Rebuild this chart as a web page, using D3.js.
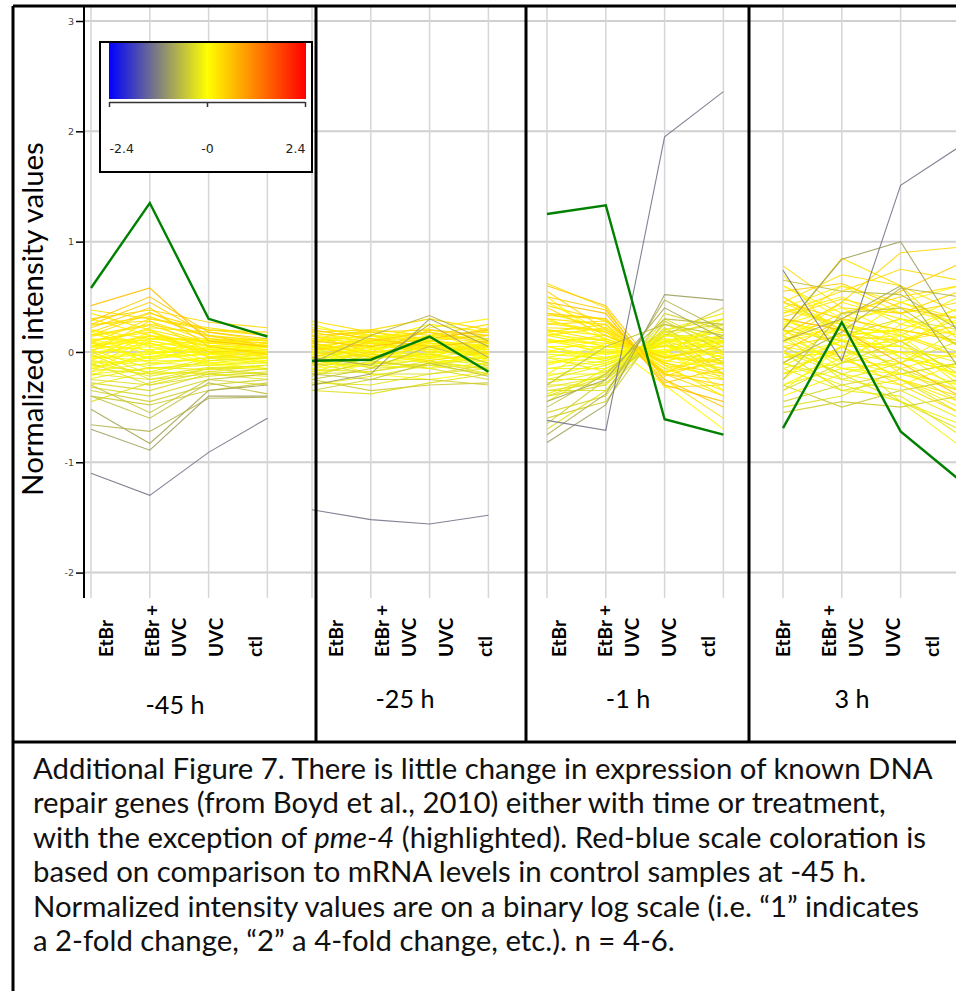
<!DOCTYPE html>
<html>
<head>
<meta charset="utf-8">
<script src="https://cdn.jsdelivr.net/npm/d3@7"></script>
<style>
  body { margin: 0; background: #fff; }
  svg { display: block; }
</style>
</head>
<body>
<svg width="956" height="991"></svg>
<script>
// ---- data ----
var conditions = ["EtBr", "EtBr + UVC", "UVC", "ctl"];
var times = ["-45 h", "-25 h", "-1 h", "3 h"];
var yTicks = [-2, -1, 0, 1, 2, 3];
var legendTicks = [-2.4, 0, 2.4];
var highlightGene = "pme-4"; // row 0 of every table
var highlightIndex = 0;

// one row per gene: values for EtBr, EtBr + UVC, UVC, ctl
var expr45h = [
  [0.58, 1.35, 0.30, 0.14],
  [-1.10, -1.30, -0.91, -0.60],
  [-0.70, -0.89, -0.40, -0.40],
  [-0.66, -0.72, -0.42, -0.41],
  [-0.52, -0.83, -0.35, -0.30],
  [-0.40, -0.60, -0.28, -0.38],
  [-0.30, -0.55, -0.25, -0.20],
  [0.42, 0.58, 0.10, 0.05],
  [0.28, 0.50, 0.18, 0.12],
  [0.30, 0.38, 0.27, 0.22],
  [0.22, 0.40, 0.05, -0.02],
  [0.18, 0.36, 0.12, 0.08],
  [0.25, 0.28, 0.00, 0.02],
  [0.15, 0.25, 0.15, 0.10],
  [0.10, 0.20, -0.05, 0.00],
  [0.05, 0.15, 0.08, 0.06],
  [0.12, 0.10, 0.02, -0.05],
  [0.00, 0.05, -0.02, 0.02],
  [0.05, -0.05, 0.10, 0.05],
  [-0.05, 0.00, -0.10, -0.08],
  [-0.10, -0.08, 0.05, 0.00],
  [-0.08, -0.12, -0.05, -0.10],
  [-0.15, -0.20, -0.08, -0.05],
  [-0.20, -0.25, -0.15, -0.12],
  [-0.25, -0.30, -0.18, -0.20],
  [-0.28, -0.35, -0.20, -0.15],
  [-0.32, -0.40, -0.25, -0.30],
  [-0.35, -0.45, -0.30, -0.25],
  [0.20, 0.05, -0.10, -0.15],
  [0.08, 0.30, 0.20, 0.15],
  [-0.12, 0.12, 0.10, 0.05],
  [0.02, -0.15, -0.12, -0.08],
  [0.18, 0.00, 0.03, -0.02],
  [-0.18, 0.10, 0.00, 0.08],
  [0.35, 0.20, 0.08, 0.12],
  [-0.02, -0.25, -0.20, -0.25],
  [0.10, -0.10, -0.05, 0.00],
  [-0.22, 0.02, -0.12, -0.15],
  [0.15, 0.35, 0.20, 0.18],
  [-0.40, -0.48, -0.35, -0.28],
  [0.30, 0.15, 0.00, -0.10],
  [-0.05, 0.18, 0.05, 0.00],
  [0.00, -0.20, -0.18, -0.12],
  [0.08, 0.08, -0.08, -0.05],
  [-0.10, -0.30, -0.22, -0.18],
  [0.25, 0.45, 0.15, 0.05],
  [-0.15, -0.05, 0.02, 0.05],
  [0.05, 0.22, 0.18, 0.10],
  [-0.30, -0.18, -0.20, -0.22],
  [0.38, 0.30, 0.22, 0.15],
  [-0.45, -0.28, -0.15, -0.20],
  [0.12, -0.02, 0.12, 0.10],
  [-0.08, 0.15, -0.02, -0.02],
  [0.20, 0.12, 0.12, 0.05],
  [-0.20, -0.15, -0.10, -0.05],
  [0.00, 0.28, 0.10, 0.12],
  [0.02, 0.12, 0.06, 0.04],
  [-0.06, -0.02, 0.04, 0.00],
  [0.10, 0.18, 0.00, -0.04],
  [-0.12, -0.18, -0.06, -0.02],
  [0.16, 0.06, 0.10, 0.08],
  [-0.02, 0.08, -0.04, -0.06],
  [0.06, 0.02, 0.06, 0.02],
  [-0.18, -0.10, -0.12, -0.10],
  [0.24, 0.32, 0.14, 0.10],
  [-0.08, -0.22, -0.14, -0.16],
  [0.04, 0.14, 0.10, 0.06],
  [-0.04, -0.08, -0.08, -0.02],
  [0.14, 0.24, 0.08, 0.04],
  [-0.14, -0.04, -0.02, -0.08],
  [0.08, -0.06, -0.02, 0.04],
  [-0.24, -0.14, -0.16, -0.12]
];

var expr25h = [
  [-0.08, -0.07, 0.14, -0.18],
  [-1.43, -1.52, -1.56, -1.48],
  [-0.30, -0.20, 0.30, 0.05],
  [-0.10, 0.15, 0.33, 0.10],
  [-0.05, -0.12, 0.25, -0.05],
  [-0.20, -0.25, -0.10, -0.22],
  [-0.25, -0.15, 0.05, -0.10],
  [0.10, 0.05, 0.12, 0.20],
  [0.20, 0.12, 0.05, 0.10],
  [0.05, -0.05, 0.10, 0.15],
  [-0.05, 0.10, 0.18, 0.08],
  [0.15, 0.18, 0.20, 0.12],
  [0.08, -0.02, -0.08, 0.00],
  [-0.12, 0.00, 0.05, -0.02],
  [0.02, 0.08, 0.00, 0.05],
  [0.00, -0.08, 0.08, 0.02],
  [0.12, 0.03, -0.05, 0.10],
  [-0.08, 0.05, 0.02, -0.05],
  [0.05, 0.00, -0.02, 0.08],
  [-0.15, -0.10, -0.05, -0.08],
  [0.10, 0.15, 0.10, 0.02],
  [-0.02, -0.12, -0.15, -0.10],
  [-0.18, -0.05, 0.05, 0.00],
  [0.05, -0.15, -0.12, -0.15],
  [-0.20, -0.18, -0.08, -0.20],
  [-0.10, -0.20, -0.20, -0.12],
  [-0.22, -0.08, -0.15, -0.25],
  [-0.35, -0.25, -0.25, -0.30],
  [0.15, 0.05, -0.10, -0.05],
  [0.18, 0.20, 0.15, 0.25],
  [-0.05, 0.05, 0.22, 0.30],
  [0.08, -0.08, -0.15, 0.05],
  [-0.10, 0.02, 0.08, -0.08],
  [0.02, 0.10, 0.25, 0.18],
  [0.22, 0.15, 0.00, 0.00],
  [-0.28, -0.30, -0.20, -0.15],
  [0.25, 0.10, 0.05, -0.05],
  [-0.05, -0.20, -0.25, -0.18],
  [0.12, 0.20, 0.30, 0.20],
  [-0.25, -0.35, -0.30, -0.28],
  [0.00, 0.12, 0.18, 0.00],
  [-0.15, -0.02, 0.10, 0.05],
  [0.00, -0.05, -0.02, -0.12],
  [0.06, -0.04, 0.04, -0.02],
  [-0.12, -0.10, -0.12, -0.05],
  [0.15, 0.00, 0.20, 0.15],
  [-0.10, 0.08, 0.12, 0.15],
  [0.10, 0.18, 0.12, -0.02],
  [-0.30, -0.22, -0.12, -0.20],
  [0.28, 0.18, 0.10, 0.22],
  [-0.35, -0.38, -0.28, -0.20],
  [-0.02, 0.02, 0.15, 0.12],
  [0.04, 0.12, -0.04, 0.08],
  [0.18, 0.08, 0.02, 0.04],
  [-0.18, -0.12, 0.00, -0.02],
  [0.02, 0.15, 0.08, 0.05],
  [0.06, 0.10, 0.06, 0.02],
  [-0.04, 0.02, 0.10, 0.06],
  [0.12, 0.08, 0.04, 0.12],
  [-0.08, -0.14, -0.06, -0.12],
  [0.10, 0.14, 0.18, 0.10],
  [-0.06, -0.02, -0.10, -0.04],
  [0.00, 0.04, 0.06, 0.00],
  [-0.12, -0.06, -0.02, -0.10],
  [0.14, 0.10, 0.14, 0.18],
  [-0.16, -0.18, -0.10, -0.14],
  [0.02, 0.06, 0.14, 0.08],
  [0.04, -0.04, -0.04, -0.06],
  [0.08, 0.16, 0.02, 0.06],
  [-0.10, 0.00, 0.04, -0.04],
  [0.08, 0.00, -0.06, 0.04],
  [-0.20, -0.10, -0.08, -0.16]
];

var expr1h = [
  [1.25, 1.33, -0.61, -0.75],
  [-0.62, -0.71, 1.95, 2.36],
  [-0.82, -0.48, 0.52, 0.47],
  [-0.75, -0.38, 0.47, 0.20],
  [-0.45, -0.25, 0.40, 0.12],
  [-0.50, -0.20, 0.30, 0.25],
  [-0.30, 0.05, 0.25, 0.15],
  [0.45, 0.35, -0.30, -0.45],
  [0.60, 0.42, -0.25, -0.50],
  [0.55, 0.20, -0.10, -0.20],
  [0.35, 0.30, -0.20, -0.30],
  [0.40, 0.15, -0.05, 0.05],
  [0.30, 0.25, -0.25, -0.60],
  [0.20, 0.10, -0.05, -0.10],
  [0.28, 0.18, -0.15, -0.35],
  [0.15, 0.05, 0.05, 0.15],
  [0.10, 0.00, 0.00, 0.10],
  [0.05, -0.05, 0.08, 0.20],
  [-0.05, -0.10, 0.10, 0.05],
  [-0.10, -0.05, 0.05, -0.05],
  [-0.15, -0.15, 0.15, 0.10],
  [-0.20, -0.20, 0.18, 0.00],
  [-0.25, -0.25, 0.20, 0.30],
  [-0.30, -0.30, 0.25, 0.10],
  [-0.35, -0.35, 0.30, 0.05],
  [-0.40, -0.30, 0.22, -0.10],
  [-0.55, -0.40, 0.35, 0.20],
  [-0.60, -0.45, 0.28, 0.00],
  [0.50, 0.10, -0.30, -0.70],
  [0.25, 0.28, -0.20, -0.25],
  [0.00, 0.12, -0.08, -0.15],
  [-0.05, -0.18, 0.20, 0.35],
  [0.18, 0.05, -0.02, -0.20],
  [-0.20, 0.08, 0.00, 0.25],
  [0.15, 0.22, -0.12, -0.40],
  [-0.40, -0.22, 0.10, -0.20],
  [0.05, -0.08, 0.12, 0.00],
  [-0.10, 0.00, 0.02, -0.35],
  [0.33, 0.30, -0.22, -0.05],
  [-0.65, -0.25, 0.15, 0.40],
  [0.45, 0.18, -0.20, 0.10],
  [0.08, 0.15, -0.10, 0.15],
  [-0.25, -0.12, 0.08, -0.25],
  [0.12, 0.02, 0.00, -0.10],
  [-0.35, -0.28, 0.18, 0.25],
  [0.50, 0.38, -0.28, -0.15],
  [-0.05, 0.05, -0.02, 0.30],
  [0.22, 0.20, -0.18, -0.02],
  [-0.45, -0.15, 0.10, -0.05],
  [0.62, 0.40, -0.32, -0.30],
  [-0.70, -0.35, 0.20, -0.20],
  [0.00, -0.02, 0.05, 0.05],
  [0.10, 0.08, -0.05, -0.08],
  [0.30, 0.12, -0.08, 0.00],
  [-0.15, -0.08, 0.10, 0.18],
  [0.18, 0.25, -0.18, -0.10],
  [0.20, 0.15, -0.10, -0.25],
  [-0.08, -0.12, 0.12, 0.08],
  [0.35, 0.22, -0.15, -0.05],
  [-0.28, -0.18, 0.15, 0.08],
  [0.10, 0.12, -0.06, 0.10],
  [0.05, 0.05, -0.02, -0.15],
  [0.12, -0.02, 0.02, 0.10],
  [-0.22, -0.10, 0.06, -0.12],
  [0.42, 0.28, -0.20, -0.40],
  [-0.32, -0.22, 0.16, 0.12],
  [0.16, 0.10, -0.04, 0.02],
  [-0.02, -0.06, 0.06, -0.02],
  [0.26, 0.18, -0.12, -0.22],
  [-0.12, 0.02, 0.00, 0.15],
  [0.02, -0.08, 0.10, 0.22],
  [-0.38, -0.20, 0.14, 0.30]
];

var expr3h = [
  [-0.69, 0.27, -0.72, -1.16],
  [0.74, -0.08, 1.51, 1.86],
  [0.20, 0.84, 1.00, 0.16],
  [-0.10, 0.18, 0.58, 0.50],
  [0.10, 0.30, 0.60, -0.15],
  [0.65, 0.55, 0.52, 0.20],
  [-0.25, 0.35, 0.40, 0.05],
  [0.30, 0.20, -0.10, -0.40],
  [0.55, 0.62, 0.40, 0.30],
  [0.15, 0.45, 0.90, 0.95],
  [0.45, 0.30, 0.20, 0.10],
  [0.78, 0.40, 0.35, 0.45],
  [0.20, -0.05, -0.30, -0.55],
  [0.05, 0.15, 0.10, 0.25],
  [-0.20, 0.05, -0.25, -0.45],
  [0.35, 0.50, 0.25, 0.15],
  [0.30, 0.05, 0.05, 0.35],
  [0.10, 0.20, -0.05, -0.20],
  [-0.05, 0.10, 0.15, 0.00],
  [0.00, -0.15, -0.20, -0.30],
  [-0.30, -0.05, 0.15, 0.40],
  [0.40, 0.25, 0.05, -0.10],
  [-0.10, -0.25, -0.35, -0.60],
  [0.20, 0.10, -0.15, -0.45],
  [0.05, -0.20, -0.45, -0.70],
  [-0.35, -0.10, 0.10, -0.20],
  [-0.45, -0.30, -0.20, -0.10],
  [-0.55, -0.45, -0.50, -0.40],
  [0.60, 0.30, -0.05, -0.20],
  [0.10, 0.35, 0.50, 0.60],
  [0.40, 0.60, 0.35, 0.05],
  [-0.15, 0.00, -0.10, 0.20],
  [0.25, 0.40, 0.15, -0.25],
  [-0.40, -0.20, -0.30, -0.10],
  [0.50, 0.20, -0.20, -0.35],
  [0.00, -0.35, -0.25, -0.55],
  [0.15, -0.10, 0.25, 0.50],
  [-0.20, 0.05, 0.30, 0.15],
  [0.35, 0.55, 0.75, 0.65],
  [-0.30, -0.50, -0.35, -0.25],
  [0.70, 0.10, 0.00, -0.05],
  [-0.10, 0.25, 0.45, 0.30],
  [0.15, -0.25, -0.10, 0.10],
  [-0.05, 0.00, 0.00, -0.15],
  [0.50, 0.15, 0.30, 0.20],
  [0.00, 0.30, 0.55, 0.80],
  [-0.25, 0.15, 0.20, 0.10],
  [0.25, 0.05, -0.25, -0.40],
  [-0.15, -0.35, -0.40, -0.75],
  [0.45, 0.70, 0.60, 0.35],
  [-0.50, -0.40, -0.15, -0.35],
  [0.30, 0.10, 0.45, 0.60],
  [0.08, 0.45, 0.30, 0.05],
  [0.60, 0.35, 0.10, -0.30],
  [-0.05, 0.00, -0.45, -0.85],
  [0.20, 0.85, 0.60, 0.10],
  [0.12, 0.22, 0.18, -0.05],
  [-0.12, 0.10, 0.05, -0.25],
  [0.45, 0.20, 0.10, 0.20],
  [-0.20, -0.10, 0.00, -0.35],
  [0.28, 0.15, 0.20, 0.40],
  [0.05, -0.05, -0.15, 0.00],
  [0.18, 0.28, 0.40, 0.25],
  [-0.30, -0.15, -0.25, -0.50],
  [0.32, 0.48, 0.35, 0.55],
  [0.00, -0.20, -0.05, -0.15],
  [0.22, 0.60, 0.45, 0.25],
  [0.10, -0.08, -0.20, -0.10],
  [0.38, 0.25, 0.15, -0.05],
  [-0.35, 0.05, 0.10, 0.30],
  [0.20, -0.15, -0.10, -0.30],
  [-0.10, -0.30, -0.45, -0.65]
];

var captionLines = [
  ["Additional Figure 7. There is little change in expression of known DNA"],
  ["repair genes (from Boyd et al., 2010) either with time or treatment,"],
  ["with the exception of ", "pme-4", " (highlighted). Red-blue scale coloration is"],
  ["based on comparison to mRNA levels in control samples at -45 h."],
  ["Normalized intensity values are on a binary log scale (i.e. \u201c1\u201d indicates"],
  ["a 2-fold change, \u201c2\u201d a 4-fold change, etc.). n = 4-6."]
];

// ---- layout ----
var svg = d3.select("svg"),
    W = +svg.attr("width");
var frameLeft = 13, frameTop = 6, chartBottom = 742;
var dividers = [316, 526, 749];
var axisX = 84, plotTop = 7, plotBottom = 598;
var gridStart = [91, 312, 547, 783], gridStep = 58.8;
var labelStart = [106, 336, 559, 783];
var labelDx = [0, 46, 110, 149], wrapDx = 27;   // second line of "EtBr + UVC"
var timeY = [714, 708, 708, 708];
var font = "Lato, 'Open Sans', sans-serif";

var y = d3.scaleLinear().domain([-2, 3]).range([572.6, 21]);
var color = d3.scaleLinear().domain([-2.4, 0, 2.4]).range(["#0000ff", "#ffff00", "#ff0000"]);
var panels = [expr45h, expr25h, expr1h, expr3h];
var xs = times.map(function (t, i) {
  return d3.scalePoint().domain(conditions).range([gridStart[i], gridStart[i] + 3 * gridStep]);
});

// grid
var grid = svg.append("g");
grid.selectAll(".hgrid").data(yTicks).enter().append("line")
    .attr("x1", axisX).attr("x2", W)
    .attr("y1", function (d) { return y(d); }).attr("y2", function (d) { return y(d); })
    .attr("stroke", "#d0d0d0").attr("stroke-width", 2);
xs.forEach(function (x) {
  grid.append("g").selectAll("line").data(conditions).enter().append("line")
      .attr("x1", function (d) { return x(d); }).attr("x2", function (d) { return x(d); })
      .attr("y1", plotTop).attr("y2", plotBottom)
      .attr("stroke", "#d6d6d6").attr("stroke-width", 1.5);
});

// gene profiles, highlighted gene drawn last
var order = d3.range(expr45h.length).reverse();
panels.forEach(function (rows, p) {
  var x = xs[p];
  var ln = d3.line()
      .x(function (v, j) { return x(conditions[j]); })
      .y(function (v) { return y(v); });
  svg.append("g").attr("class", "profiles")
    .selectAll("path").data(order).enter().append("path")
      .attr("d", function (g) { return ln(rows[g]); })
      .attr("fill", "none")
      .attr("stroke", function (g) { return g === highlightIndex ? "#008000" : color(expr45h[g][1]); })
      .attr("stroke-width", function (g) { return g === highlightIndex ? 2.4 : 1.1; })
      .attr("stroke-opacity", function (g) { return g === highlightIndex ? 1 : 0.9; })
    .append("title").text(function (g) { return g === highlightIndex ? highlightGene : ""; });
});

// y axis
var yAxis = svg.append("g")
    .attr("transform", "translate(" + axisX + ",0)")
    .call(d3.axisLeft(y).tickValues(yTicks).tickSize(8).tickPadding(2)
          .tickFormat(function (d) { return String(d); }));
yAxis.select(".domain").remove();
yAxis.selectAll("line").attr("stroke", "#000").attr("stroke-width", 1.5);
yAxis.selectAll("text").attr("font-family", "'DejaVu Sans', sans-serif")
    .attr("font-size", 9.5).attr("fill", "#444");
svg.append("line")
    .attr("x1", axisX).attr("x2", axisX).attr("y1", plotTop).attr("y2", plotBottom)
    .attr("stroke", "#000").attr("stroke-width", 2);

// y label, sized to the original's length
var yLab = svg.append("text")
    .attr("transform", "translate(33,319) rotate(-90)")
    .attr("text-anchor", "middle").attr("dy", "0.35em")
    .attr("font-family", font).attr("font-size", 30).attr("fill", "#000")
    .text("Normalized intensity values");
yLab.attr("font-size", 30 * 354 / yLab.node().getComputedTextLength());

// condition labels
var condG = svg.append("g").attr("font-family", font).attr("font-weight", "bold")
    .attr("font-size", 19).attr("fill", "#000");
times.forEach(function (t, p) {
  conditions.forEach(function (c, j) {
    var parts = c === "EtBr + UVC" ? ["EtBr +", "UVC"] : [c];
    parts.forEach(function (s, k) {
      condG.append("text")
          .attr("class", "cond")
          .attr("transform", "translate(" + (labelStart[p] + labelDx[j] + k * wrapDx) + ",657) rotate(-90)")
          .attr("dy", "0.35em")
          .text(s);
    });
  });
});
var etbr = condG.select(".cond");
condG.attr("font-size", 19 * 37 / etbr.node().getComputedTextLength());

// time labels
var timeG = svg.append("g").attr("font-family", font).attr("font-size", 22)
    .attr("text-anchor", "middle").attr("fill", "#000");
timeG.selectAll("text").data(times).enter().append("text")
    .attr("x", function (d, i) { return labelStart[i] + 69; })
    .attr("y", function (d, i) { return timeY[i]; })
    .text(function (d) { return d; });
timeG.attr("font-size", 22 * 59 / timeG.select("text").node().getComputedTextLength());

// colour legend
var defs = svg.append("defs");
var lg = defs.append("linearGradient").attr("id", "legendGrad")
    .attr("x1", "0%").attr("x2", "100%").attr("y1", "0%").attr("y2", "0%");
var lx = d3.scaleLinear().domain([-2.4, 2.4]).range([109, 305]);
lg.selectAll("stop").data(legendTicks).enter().append("stop")
    .attr("offset", function (d) { return (lx(d) - 109) / (305 - 109); })
    .attr("stop-color", function (d) { return color(d); });
var leg = svg.append("g");
leg.append("rect").attr("x", 100).attr("y", 42).attr("width", 212).attr("height", 130)
    .attr("fill", "#fff").attr("stroke", "#000").attr("stroke-width", 2);
leg.append("rect").attr("x", 109).attr("y", 43).attr("width", 197).attr("height", 56)
    .attr("fill", "url(#legendGrad)");
var legAxis = leg.append("g").attr("transform", "translate(0,102)")
    .call(d3.axisBottom(lx).tickValues(legendTicks).tickSizeInner(5).tickSizeOuter(0).tickPadding(46)
          .tickFormat(function (d) { return d === 0 ? "-0" : d3.format(".1f")(d).replace("\u2212", "-"); }));
legAxis.select(".domain").attr("stroke", "#333").attr("stroke-width", 1.5);
legAxis.selectAll("line").attr("stroke", "#333").attr("stroke-width", 1.5);
legAxis.selectAll("text").attr("font-family", "'DejaVu Sans', sans-serif").attr("font-size", 12.5)
    .attr("fill", "#222").attr("dy", 0)
    .attr("text-anchor", function (d, i) { return i === 0 ? "start" : (i === legendTicks.length - 1 ? "end" : "middle"); });

// frame
var frame = svg.append("g").attr("stroke", "#000").attr("stroke-width", 3);
frame.append("line").attr("x1", frameLeft).attr("x2", W).attr("y1", frameTop).attr("y2", frameTop);
frame.append("line").attr("x1", frameLeft).attr("x2", frameLeft).attr("y1", frameTop).attr("y2", 991);
frame.append("line").attr("x1", frameLeft).attr("x2", W).attr("y1", chartBottom).attr("y2", chartBottom);
frame.selectAll(".div").data(dividers).enter().append("line")
    .attr("x1", function (d) { return d; }).attr("x2", function (d) { return d; })
    .attr("y1", frameTop).attr("y2", chartBottom);

// caption
var cap = svg.append("g").attr("font-family", font).attr("font-size", 22).attr("fill", "#111");
captionLines.forEach(function (parts, i) {
  var t = cap.append("text").attr("x", 33).attr("y", 779 + i * 34.4);
  parts.forEach(function (s, k) {
    t.append("tspan").attr("font-style", parts.length > 1 && k === 1 ? "italic" : null).text(s);
  });
});
cap.attr("font-size", 22 * 900 / cap.select("text").node().getComputedTextLength());
</script>
</body>
</html>
